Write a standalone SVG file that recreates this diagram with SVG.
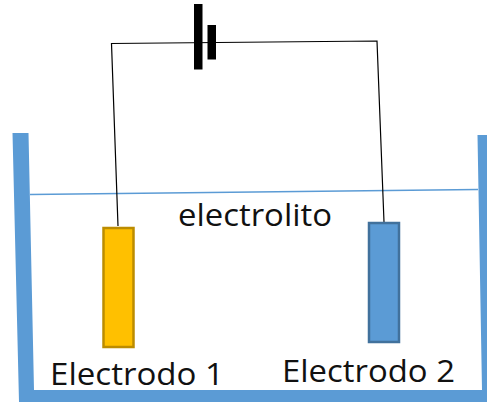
<svg xmlns="http://www.w3.org/2000/svg" width="487" height="403" viewBox="0 0 487 403">
<style>
.wire{fill:none;stroke:#000;stroke-width:1.2}
.bar{fill:#000}
.t{font-family:"Open Sans","Liberation Sans",sans-serif;font-size:31px;fill:#111}
</style>
<rect width="487" height="403" fill="#fff"/>
<g id="tank"><polygon points="12.500,133 28.500,133 34,390 482,390 477.500,135 487,135 487,402 19,402" fill="#5b9bd5"/></g>
<g id="water"><line x1="30" y1="194.500" x2="478" y2="189.500" stroke="#5b9bd5" stroke-width="1.3"/></g>
<g id="connectors">
<path class="wire" d="M118 226 L111.500 43.500 L377 41 L384 222"/>
</g>
<g id="battery">
<rect class="bar" x="194" y="4" width="8.500" height="65.500"/>
<rect class="bar" x="207.500" y="25" width="8.500" height="34.500"/>
</g>
<g id="electrode1"><rect x="103.500" y="228" width="30" height="119" fill="#ffc000" stroke="#bc8c00" stroke-width="2.500"/></g>
<g id="electrode2"><rect x="369" y="223" width="30" height="119" fill="#5b9bd5" stroke="#41719c" stroke-width="2.500"/></g>
<g id="labels">
<text class="t" x="178" y="226" textLength="154" lengthAdjust="spacingAndGlyphs">electrolito</text>
<text class="t" x="50" y="385" textLength="174" lengthAdjust="spacingAndGlyphs">Electrodo 1</text>
<text class="t" x="282" y="381.500" textLength="173" lengthAdjust="spacingAndGlyphs">Electrodo 2</text>
</g>
</svg>
